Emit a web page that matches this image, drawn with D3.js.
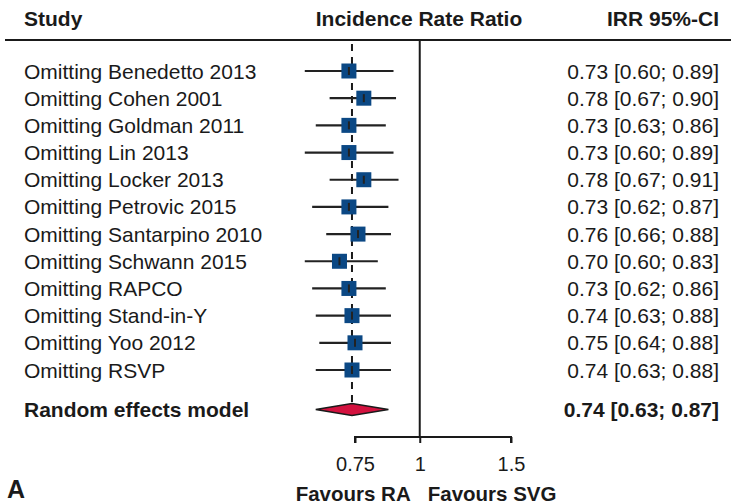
<!DOCTYPE html>
<html>
<head>
<meta charset="utf-8">
<script src="https://cdn.jsdelivr.net/npm/d3@7"></script>
<style>
  body { margin: 0; background: #fff; }
  text { font-family: "Liberation Sans", Arial, Helvetica, sans-serif; fill: #1a1a1a; }
</style>
</head>
<body>
<script>
// leave-one-out results
const studies = ["Omitting Benedetto 2013", "Omitting Cohen 2001", "Omitting Goldman 2011",
                 "Omitting Lin 2013", "Omitting Locker 2013", "Omitting Petrovic 2015",
                 "Omitting Santarpino 2010", "Omitting Schwann 2015", "Omitting RAPCO",
                 "Omitting Stand-in-Y", "Omitting Yoo 2012", "Omitting RSVP"];
const irr   = [0.73, 0.78, 0.73, 0.73, 0.78, 0.73, 0.76, 0.70, 0.73, 0.74, 0.75, 0.74];
const lower = [0.60, 0.67, 0.63, 0.60, 0.67, 0.62, 0.66, 0.60, 0.62, 0.63, 0.64, 0.63];
const upper = [0.89, 0.90, 0.86, 0.89, 0.91, 0.87, 0.88, 0.83, 0.86, 0.88, 0.88, 0.88];
const pooled = {est: 0.74, lo: 0.63, hi: 0.87};
const ticks = [0.75, 1, 1.5];

const w = 731, h = 504;
const fs = 21;

const svg = d3.select("body").append("svg")
    .attr("width", w)
    .attr("height", h);

const x = d3.scaleLog()
    .domain([0.75, 1.5])
    .range([355, 511]);

// row index -> y centre, pooled row sits a bit lower
const y = d3.scaleLinear()
    .domain([0, 11])
    .range([71, 370]);
const yPooled = y(12.45);

const fmt = d3.format(".2f");
const ciText = (e, l, u) => fmt(e) + " [" + fmt(l) + "; " + fmt(u) + "]";

// header
svg.append("text").attr("x", 24).attr("y", 26)
    .style("font-weight", "bold").style("font-size", fs + "px").text("Study");
svg.append("text").attr("x", 419).attr("y", 26).attr("text-anchor", "middle")
    .style("font-weight", "bold").style("font-size", fs + "px").text("Incidence Rate Ratio");
svg.append("text").attr("x", 719).attr("y", 26).attr("text-anchor", "end")
    .style("font-weight", "bold").style("font-size", fs + "px").text("IRR 95%-CI");
svg.append("line")
    .attr("x1", 5).attr("x2", w).attr("y1", 40).attr("y2", 40)
    .style("stroke", "#1a1a1a").style("stroke-width", 2);

// reference lines
svg.append("line")
    .attr("x1", x(1)).attr("x2", x(1)).attr("y1", 40).attr("y2", 437)
    .style("stroke", "#1a1a1a").style("stroke-width", 2);
svg.append("line")
    .attr("x1", x(pooled.est)).attr("x2", x(pooled.est)).attr("y1", 44).attr("y2", yPooled - 5)
    .style("stroke", "#1a1a1a").style("stroke-width", 2)
    .style("stroke-dasharray", "7,6");

const rows = studies.map((s, i) => ({name: s, est: irr[i], lo: lower[i], hi: upper[i], i: i}));

const row = svg.selectAll("g.row")
    .data(rows)
    .enter()
    .append("g")
    .attr("class", "row");

row.append("text")
    .attr("x", 24).attr("y", d => y(d.i)).attr("dy", "0.36em")
    .style("font-size", fs + "px")
    .text(d => d.name);

row.append("text")
    .attr("x", 719).attr("y", d => y(d.i)).attr("dy", "0.36em")
    .attr("text-anchor", "end")
    .style("font-size", fs + "px")
    .text(d => ciText(d.est, d.lo, d.hi));

row.append("line")
    .attr("x1", d => x(d.lo)).attr("x2", d => x(d.hi))
    .attr("y1", d => y(d.i)).attr("y2", d => y(d.i))
    .style("stroke", "#222").style("stroke-width", 2.2);

const sq = 15;
row.append("rect")
    .attr("x", d => x(d.est) - sq / 2).attr("y", d => y(d.i) - sq / 2)
    .attr("width", sq).attr("height", sq)
    .style("fill", "#0b4884");

row.append("line")
    .attr("x1", d => x(d.est)).attr("x2", d => x(d.est))
    .attr("y1", d => y(d.i) - 4).attr("y2", d => y(d.i) + 4)
    .style("stroke", "#222").style("stroke-width", 2);

// pooled estimate
svg.append("text").attr("x", 24).attr("y", yPooled).attr("dy", "0.36em")
    .style("font-weight", "bold").style("font-size", fs + "px").text("Random effects model");
svg.append("text").attr("x", 719).attr("y", yPooled).attr("dy", "0.36em")
    .attr("text-anchor", "end")
    .style("font-weight", "bold").style("font-size", fs + "px")
    .text(ciText(pooled.est, pooled.lo, pooled.hi));

svg.append("path")
    .attr("d", "M" + x(pooled.lo) + "," + yPooled +
               "L" + x(pooled.est) + "," + (yPooled - 6) +
               "L" + x(pooled.hi) + "," + yPooled +
               "L" + x(pooled.est) + "," + (yPooled + 6) + "Z")
    .style("fill", "#d3123f").style("stroke", "#1a1a1a").style("stroke-width", 1.5);

// x axis
const xAxis = d3.axisBottom(x)
    .tickValues(ticks)
    .tickFormat(d => String(d))
    .tickSize(6)
    .tickPadding(14);

const ax = svg.append("g")
    .attr("transform", "translate(0,437)")
    .call(xAxis);
ax.select(".domain")
    .attr("d", "M" + x(0.75) + ",6V0H" + x(1.5) + "V6")
    .style("stroke", "#1a1a1a").style("stroke-width", 2);
ax.selectAll(".tick line").style("stroke", "#1a1a1a").style("stroke-width", 2);
ax.selectAll(".tick text")
    .style("font-size", "20px")
    .style("font-family", "'Liberation Sans', Arial, sans-serif")
    .style("fill", "#1a1a1a");

svg.append("text").attr("x", x(1) - 9).attr("y", 501).attr("text-anchor", "end")
    .style("font-weight", "bold").style("font-size", "20.5px").text("Favours RA");
svg.append("text").attr("x", x(1) + 8).attr("y", 501)
    .style("font-weight", "bold").style("font-size", "20.5px").text("Favours SVG");

svg.append("text").attr("x", 7).attr("y", 498)
    .style("font-weight", "bold").style("font-size", "25px").text("A");
</script>
</body>
</html>
